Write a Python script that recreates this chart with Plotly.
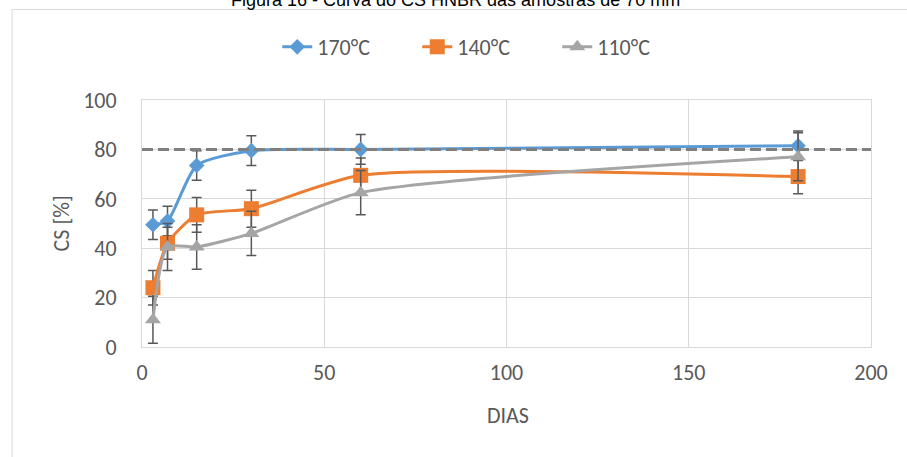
import plotly.graph_objects as go

# ---- data ----
days = [3, 7, 15, 30, 60, 180]
cs_170 = [49.5, 51, 73.5, 79.5, 80, 81.5]
err_170 = [6, 6, 6, 6, 6, 6]
cs_140 = [24, 42, 53.5, 56, 69.5, 69]
err_140 = [7, 6.5, 7, 7.5, 7, 7]
cs_110 = [11, 40.5, 40.5, 46, 62.5, 77]
err_110 = [9.5, 9.5, 9, 9, 9, 9.7]
ref_x = [0, 200]
ref_y = [80, 80]
names = ["170°C", "140°C", "110°C"]
x_ticks = [0, 50, 100, 150, 200]
y_ticks = [0, 20, 40, 60, 80, 100]

W, H = 907, 457
L, R, T, B = 141.5, 36, 100, 109.7
pw = W - L - R
ph = H - T - B

def px_x(p):
    return (p - L) / pw

def px_y(p):
    return (H - B - p) / ph

FONT = "Calibri, Carlito, Lato, sans-serif"
TXT = "#595959"
FS = 22

fig = go.Figure()
series = [
    (cs_170, err_170, names[0], "#5B9BD5", "diamond", 12),
    (cs_140, err_140, names[1], "#ED7D31", "square", 15),
    (cs_110, err_110, names[2], "#A5A5A5", "triangle-up", 14),
]
for ys, es, nm, col, sym, sz in series:
    fig.add_trace(go.Scatter(
        x=days, y=ys, name=nm, mode="lines+markers",
        line=dict(color=col, width=3, shape="spline", smoothing=0.62),
        marker=dict(color=col, symbol=sym, size=sz),
        error_y=dict(type="data", array=es, visible=True,
                     color="#595959", thickness=1.5, width=5),
        cliponaxis=False,
    ))

fig.add_trace(go.Scatter(
    x=ref_x, y=ref_y, mode="lines", showlegend=False,
    line=dict(color="#7f7f7f", width=3, dash="11px,5px"),
    cliponaxis=False, hoverinfo="skip",
))

fig.update_layout(
    width=W, height=H,
    margin=dict(l=L, r=R, t=T, b=B),
    paper_bgcolor="white", plot_bgcolor="white",
    font=dict(family=FONT, size=FS, color=TXT),
    showlegend=True,
    legend=dict(orientation="h", x=px_x(487), xanchor="center",
                y=px_y(47), yanchor="middle", entrywidth=95,
                font=dict(family=FONT, size=FS, color=TXT),
                bgcolor="rgba(0,0,0,0)"),
    xaxis=dict(range=[0, 200], tickvals=x_ticks, showgrid=True,
               gridcolor="#d9d9d9", gridwidth=1, zeroline=False,
               showline=True, mirror=True, linecolor="#d9d9d9", linewidth=1,
               ticks="", ticklabelstandoff=6,
               tickfont=dict(family=FONT, size=FS, color=TXT)),
    yaxis=dict(range=[0, 100], tickvals=y_ticks, showgrid=True,
               gridcolor="#d9d9d9", gridwidth=1, zeroline=False,
               showline=True, mirror=True, linecolor="#d9d9d9", linewidth=1,
               ticks="", ticklabelstandoff=20,
               tickfont=dict(family=FONT, size=FS, color=TXT)),
    shapes=[dict(type="rect", xref="paper", yref="paper",
                 x0=px_x(11.5), x1=px_x(1000), y0=px_y(1000), y1=px_y(9.3),
                 line=dict(color="#d9d9d9", width=1), layer="below")],
    annotations=[
        dict(text="Figura 16 - Curva do CS HNBR das amostras de 70 mm",
             xref="paper", yref="paper", x=px_x(455), y=px_y(0),
             xanchor="center", yanchor="middle", showarrow=False,
             font=dict(family="Liberation Sans, Arial", size=18, color="#000000")),
        dict(text="CS [%]", xref="paper", yref="paper", x=px_x(61), y=px_y(224),
             xanchor="center", yanchor="middle", textangle=-90, showarrow=False,
             font=dict(family=FONT, size=FS, color=TXT)),
        dict(text="DIAS", xref="paper", yref="paper", x=px_x(508), y=px_y(416),
             xanchor="center", yanchor="middle", showarrow=False,
             font=dict(family=FONT, size=FS, color=TXT)),
    ],
)

fig.write_html("out.html")
